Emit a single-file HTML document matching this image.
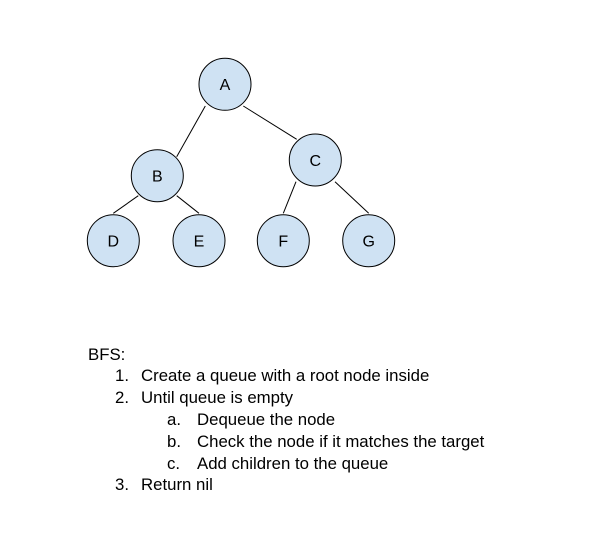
<!DOCTYPE html>
<html><head><meta charset="utf-8"><style>
html,body{margin:0;padding:0;background:#fff;width:606px;height:543px;overflow:hidden}
svg text{font-family:"Liberation Sans",Arial,sans-serif;fill:#000}
</style></head><body>
<svg width="606" height="543" viewBox="0 0 606 543" xmlns="http://www.w3.org/2000/svg">
<g stroke="#000" stroke-width="1">
<line x1="205.3" y1="106" x2="176.7" y2="156.7"/>
<line x1="243.3" y1="106" x2="296.7" y2="139.3"/>
<line x1="138.3" y1="195.7" x2="113.3" y2="213.3"/>
<line x1="176.7" y1="195.7" x2="199" y2="213.3"/>
<line x1="296" y1="181.7" x2="283.3" y2="213.3"/>
<line x1="335" y1="181.7" x2="368.7" y2="213.3"/>
</g>
<g fill="#cfe2f3" stroke="#000" stroke-width="1">
<circle cx="225" cy="84.3" r="26"/>
<circle cx="157.3" cy="175.7" r="26"/>
<circle cx="315.3" cy="160" r="26"/>
<circle cx="113.3" cy="240.7" r="26"/>
<circle cx="199" cy="240.7" r="26"/>
<circle cx="283.3" cy="240.7" r="26"/>
<circle cx="368.7" cy="240.7" r="26"/>
</g>
<g font-size="16" text-anchor="middle">
<text x="225" y="90">A</text>
<text x="157.3" y="181.5">B</text>
<text x="315.3" y="165.8">C</text>
<text x="113.3" y="246.5">D</text>
<text x="199" y="246.5">E</text>
<text x="283.3" y="246.5">F</text>
<text x="368.7" y="246.5">G</text>
</g>
<g font-size="16.8">
<text x="88" y="360">BFS:</text>
<text x="115" y="381">1.</text><text x="141" y="381">Create a queue with a root node inside</text>
<text x="115" y="403">2.</text><text x="141" y="403">Until queue is empty</text>
<text x="167" y="425">a.</text><text x="197" y="425">Dequeue the node</text>
<text x="167" y="447">b.</text><text x="197" y="447">Check the node if it matches the target</text>
<text x="167" y="469">c.</text><text x="197" y="469">Add children to the queue</text>
<text x="115" y="490">3.</text><text x="141" y="490">Return nil</text>
</g>
</svg>
</body></html>
